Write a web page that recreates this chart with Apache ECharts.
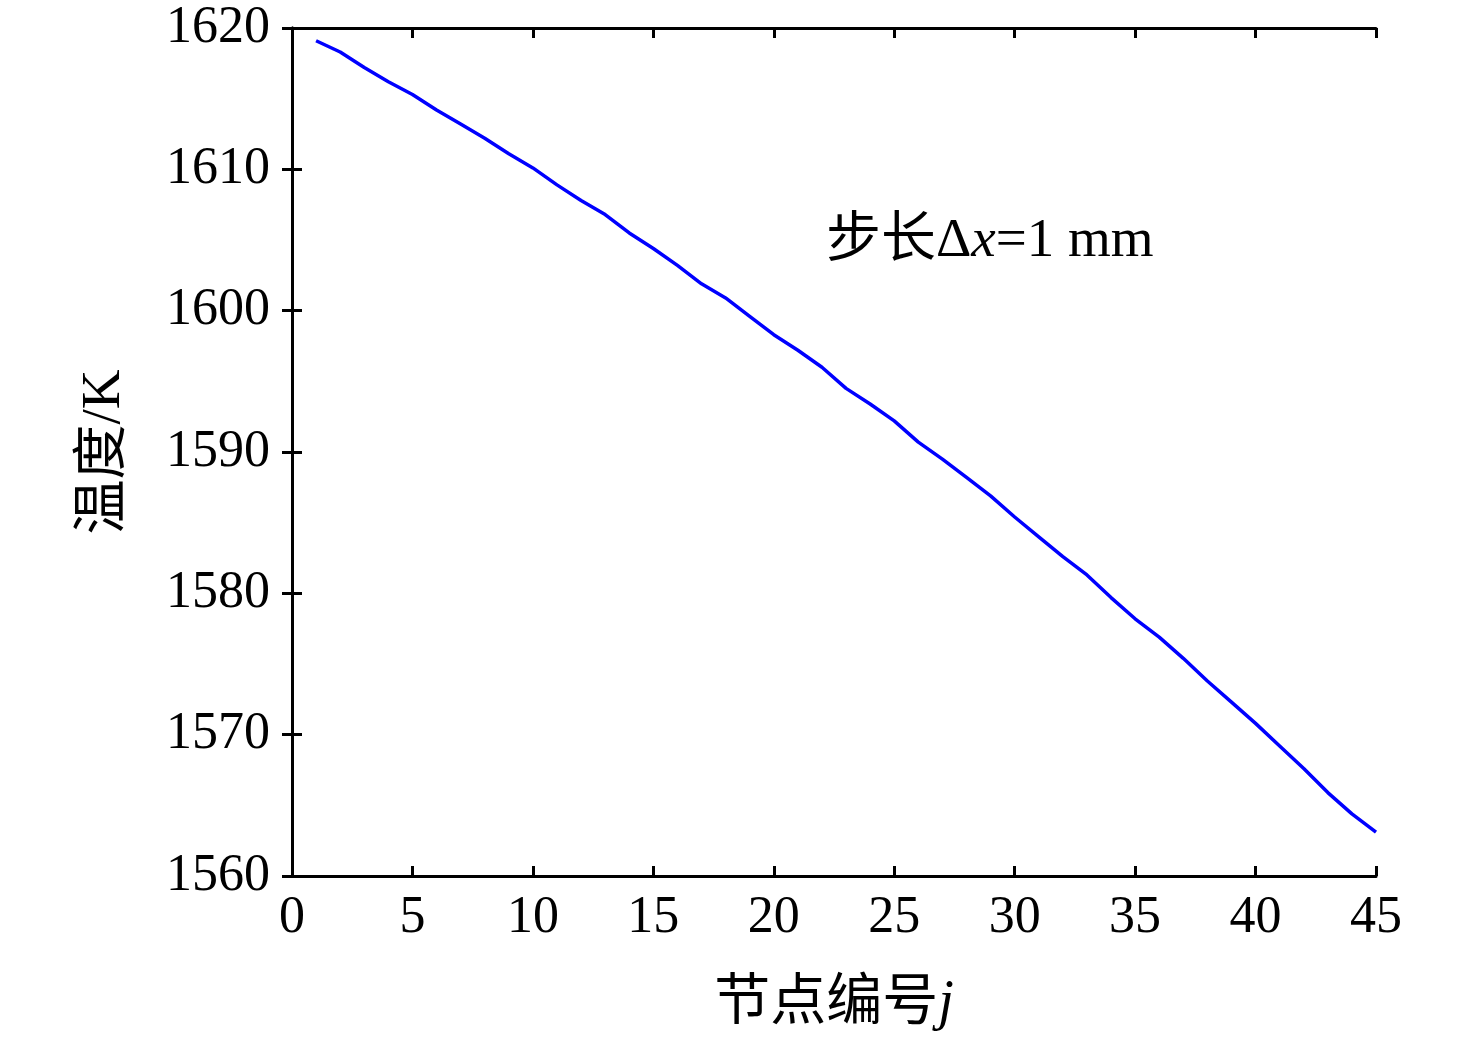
<!DOCTYPE html>
<html>
<head>
<meta charset="utf-8">
<script src="https://cdn.jsdelivr.net/npm/echarts@6/dist/echarts.min.js"></script>
<style>
  html, body { margin: 0; padding: 0; background: #fff; }
  #main { width: 1476px; height: 1040px; }
</style>
</head>
<body>
<div id="main"></div>
<script>
// 节点编号 j
var nodes = [];
for (var k = 1; k <= 45; k++) { nodes.push(k); }
// 温度 / K
var temps = [
    1619.1, 1618.3, 1617.2, 1616.2, 1615.3, 1614.2, 1613.2, 1612.2, 1611.1, 1610.1,
    1608.9, 1607.8, 1606.8, 1605.5, 1604.4, 1603.2, 1601.9, 1600.9, 1599.6, 1598.3,
    1597.2, 1596.0, 1594.5, 1593.4, 1592.2, 1590.7, 1589.5, 1588.2, 1586.9, 1585.4,
    1584.0, 1582.6, 1581.3, 1579.7, 1578.2, 1576.9, 1575.4, 1573.8, 1572.3, 1570.8,
    1569.2, 1567.6, 1565.9, 1564.4, 1563.1
];
var xTicks = { min: 0, max: 45, interval: 5 };
var yTicks = { min: 1560, max: 1620, interval: 10 };

var FONT = '"Liberation Serif", "Times New Roman", "Noto Sans CJK SC", serif';

var myChart = echarts.init(document.getElementById('main'));

var seriesData = [];
for (var i = 0; i < nodes.length; i++) {
    seriesData.push([nodes[i], temps[i]]);
}

var axisLine = { show: true, lineStyle: { color: '#000', width: 3 } };
var axisTick = { show: true, inside: true, length: 10, lineStyle: { color: '#000', width: 3 } };

var option = {
    backgroundColor: '#fff',
    animation: false,
    grid: { left: 292, right: 100, top: 28, bottom: 164 },
    xAxis: [{
        type: 'value',
        min: xTicks.min, max: xTicks.max, interval: xTicks.interval,
        axisLine: axisLine, axisTick: axisTick, splitLine: { show: false },
        axisLabel: { color: '#000', fontFamily: FONT, fontSize: 52, margin: 16 },
        name: '节点编号{i|j}',
        nameLocation: 'middle',
        nameGap: 100,
        nameTextStyle: {
            color: '#000', fontFamily: FONT, fontSize: 56,
            rich: { i: { fontStyle: 'italic', fontFamily: FONT, fontSize: 56, color: '#000' } }
        }
    }, {
        type: 'value', position: 'top',
        min: xTicks.min, max: xTicks.max, interval: xTicks.interval,
        axisLine: axisLine, axisTick: axisTick, splitLine: { show: false },
        axisLabel: { show: false }
    }],
    yAxis: [{
        type: 'value',
        min: yTicks.min, max: yTicks.max, interval: yTicks.interval,
        axisLine: axisLine, axisTick: axisTick, splitLine: { show: false },
        axisLabel: {
            color: '#000', fontFamily: FONT, fontSize: 52, margin: 22,
            formatter: function (v) { return String(v); }
        },
        name: '温度/K',
        nameLocation: 'middle',
        nameGap: 160,
        nameTextStyle: { color: '#000', fontFamily: FONT, fontSize: 55 }
    }, {
        type: 'value', position: 'right',
        min: yTicks.min, max: yTicks.max, interval: yTicks.interval,
        axisLine: axisLine, axisTick: axisTick, splitLine: { show: false },
        axisLabel: { show: false }
    }],
    graphic: [{
        type: 'text',
        left: 826,
        top: 214,
        style: {
            text: '步长Δ{i|x}=1 mm',
            fill: '#000',
            font: '55px ' + FONT,
            rich: { i: { fontStyle: 'italic', fontFamily: FONT, fontSize: 55, fill: '#000' } }
        }
    }],
    series: [{
        name: '温度',
        type: 'line',
        data: seriesData,
        showSymbol: false,
        lineStyle: { color: '#0000ff', width: 3.5 }
    }]
};
myChart.setOption(option);
</script>
</body>
</html>
